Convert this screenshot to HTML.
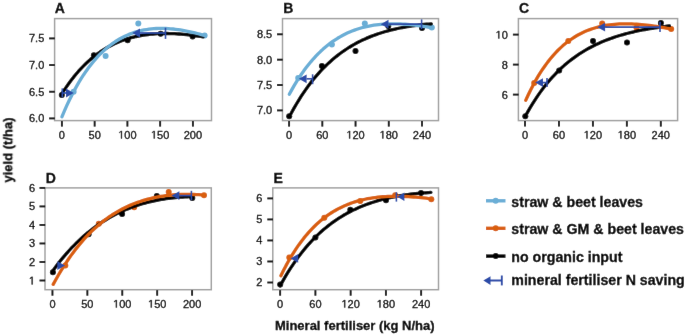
<!DOCTYPE html>
<html><head><meta charset="utf-8"><style>
html,body{margin:0;padding:0;background:#fff;}
svg{display:block;}
text{font-family:"Liberation Sans",sans-serif;fill:#000;stroke:#000;stroke-width:0.3px;}
.tk{font-size:11px;}
.hid{fill-opacity:0;stroke-opacity:0;}
.let{font-size:14px;font-weight:bold;}
.ax{font-size:13px;font-weight:bold;}
.lg{font-size:14.2px;font-weight:bold;}
</style></head><body>
<svg width="685" height="335" viewBox="0 0 685 335">
<defs><filter id="bl" x="0" y="0" width="685" height="335" filterUnits="userSpaceOnUse"><feConvolveMatrix order="3" kernelMatrix="0.0016 0.0371 0.0016 0.0371 0.8450 0.0371 0.0016 0.0371 0.0016" edgeMode="duplicate" preserveAlpha="false"/></filter></defs>
<g filter="url(#bl)"><rect width="685" height="335" fill="#fff"/><rect x="54.6" y="18.6" width="156.9" height="102.0" fill="none" stroke="#a2a2a2" stroke-width="1.5"/><text x="54.8" y="13.4" class="let">A</text><line x1="61.9" y1="121.1" x2="61.9" y2="126.6" stroke="#000" stroke-width="1.9"/><text x="61.9" y="138.5" class="tk" text-anchor="middle">0</text><line x1="94.65" y1="121.1" x2="94.65" y2="126.6" stroke="#000" stroke-width="1.9"/><text x="94.65" y="138.5" class="tk" text-anchor="middle">50</text><line x1="127.4" y1="121.1" x2="127.4" y2="126.6" stroke="#000" stroke-width="1.9"/><text x="127.4" y="138.5" class="tk" text-anchor="middle"><tspan class="hid">1</tspan>00</text><path transform="translate(118.223,138.5) scale(0.005371,-0.005371)" d="M515 0L515 1237L197 1010L197 1180L530 1409L696 1409L696 0Z" fill="#000" stroke="#000" stroke-width="55.9" stroke-linejoin="miter"/><line x1="160.15" y1="121.1" x2="160.15" y2="126.6" stroke="#000" stroke-width="1.9"/><text x="160.15" y="138.5" class="tk" text-anchor="middle"><tspan class="hid">1</tspan>50</text><path transform="translate(150.973,138.5) scale(0.005371,-0.005371)" d="M515 0L515 1237L197 1010L197 1180L530 1409L696 1409L696 0Z" fill="#000" stroke="#000" stroke-width="55.9" stroke-linejoin="miter"/><line x1="192.9" y1="121.1" x2="192.9" y2="126.6" stroke="#000" stroke-width="1.9"/><text x="192.9" y="138.5" class="tk" text-anchor="middle">200</text><line x1="49.1" y1="118.4" x2="54.800000000000004" y2="118.4" stroke="#000" stroke-width="1.9"/><text x="44.3" y="122.30000000000001" class="tk" text-anchor="end">6.0</text><line x1="49.1" y1="91.73333333333333" x2="54.800000000000004" y2="91.73333333333333" stroke="#000" stroke-width="1.9"/><text x="44.3" y="95.63333333333334" class="tk" text-anchor="end">6.5</text><line x1="49.1" y1="65.06666666666666" x2="54.800000000000004" y2="65.06666666666666" stroke="#000" stroke-width="1.9"/><text x="44.3" y="68.96666666666667" class="tk" text-anchor="end">7.0</text><line x1="49.1" y1="38.4" x2="54.800000000000004" y2="38.4" stroke="#000" stroke-width="1.9"/><text x="44.3" y="42.3" class="tk" text-anchor="end">7.5</text><rect x="282.5" y="18.6" width="156.0" height="102.0" fill="none" stroke="#a2a2a2" stroke-width="1.5"/><text x="283.3" y="13.4" class="let">B</text><line x1="289.1" y1="121.1" x2="289.1" y2="126.6" stroke="#000" stroke-width="1.9"/><text x="289.1" y="138.5" class="tk" text-anchor="middle">0</text><line x1="322.32500000000005" y1="121.1" x2="322.32500000000005" y2="126.6" stroke="#000" stroke-width="1.9"/><text x="322.32500000000005" y="138.5" class="tk" text-anchor="middle">60</text><line x1="355.55" y1="121.1" x2="355.55" y2="126.6" stroke="#000" stroke-width="1.9"/><text x="355.55" y="138.5" class="tk" text-anchor="middle"><tspan class="hid">1</tspan>20</text><path transform="translate(346.373,138.5) scale(0.005371,-0.005371)" d="M515 0L515 1237L197 1010L197 1180L530 1409L696 1409L696 0Z" fill="#000" stroke="#000" stroke-width="55.9" stroke-linejoin="miter"/><line x1="388.775" y1="121.1" x2="388.775" y2="126.6" stroke="#000" stroke-width="1.9"/><text x="388.775" y="138.5" class="tk" text-anchor="middle"><tspan class="hid">1</tspan>80</text><path transform="translate(379.598,138.5) scale(0.005371,-0.005371)" d="M515 0L515 1237L197 1010L197 1180L530 1409L696 1409L696 0Z" fill="#000" stroke="#000" stroke-width="55.9" stroke-linejoin="miter"/><line x1="422.0" y1="121.1" x2="422.0" y2="126.6" stroke="#000" stroke-width="1.9"/><text x="422.0" y="138.5" class="tk" text-anchor="middle">240</text><line x1="277.0" y1="110.4" x2="282.7" y2="110.4" stroke="#000" stroke-width="1.9"/><text x="272.2" y="114.30000000000001" class="tk" text-anchor="end">7.0</text><line x1="277.0" y1="85.03333333333333" x2="282.7" y2="85.03333333333333" stroke="#000" stroke-width="1.9"/><text x="272.2" y="88.93333333333334" class="tk" text-anchor="end">7.5</text><line x1="277.0" y1="59.66666666666667" x2="282.7" y2="59.66666666666667" stroke="#000" stroke-width="1.9"/><text x="272.2" y="63.56666666666667" class="tk" text-anchor="end">8.0</text><line x1="277.0" y1="34.3" x2="282.7" y2="34.3" stroke="#000" stroke-width="1.9"/><text x="272.2" y="38.199999999999996" class="tk" text-anchor="end">8.5</text><rect x="518.4" y="18.6" width="159.20000000000005" height="102.0" fill="none" stroke="#a2a2a2" stroke-width="1.5"/><text x="519.0" y="13.4" class="let">C</text><line x1="525.0" y1="121.1" x2="525.0" y2="126.6" stroke="#000" stroke-width="1.9"/><text x="525.0" y="138.5" class="tk" text-anchor="middle">0</text><line x1="558.95" y1="121.1" x2="558.95" y2="126.6" stroke="#000" stroke-width="1.9"/><text x="558.95" y="138.5" class="tk" text-anchor="middle">60</text><line x1="592.9" y1="121.1" x2="592.9" y2="126.6" stroke="#000" stroke-width="1.9"/><text x="592.9" y="138.5" class="tk" text-anchor="middle"><tspan class="hid">1</tspan>20</text><path transform="translate(583.723,138.5) scale(0.005371,-0.005371)" d="M515 0L515 1237L197 1010L197 1180L530 1409L696 1409L696 0Z" fill="#000" stroke="#000" stroke-width="55.9" stroke-linejoin="miter"/><line x1="626.8499999999999" y1="121.1" x2="626.8499999999999" y2="126.6" stroke="#000" stroke-width="1.9"/><text x="626.8499999999999" y="138.5" class="tk" text-anchor="middle"><tspan class="hid">1</tspan>80</text><path transform="translate(617.673,138.5) scale(0.005371,-0.005371)" d="M515 0L515 1237L197 1010L197 1180L530 1409L696 1409L696 0Z" fill="#000" stroke="#000" stroke-width="55.9" stroke-linejoin="miter"/><line x1="660.8" y1="121.1" x2="660.8" y2="126.6" stroke="#000" stroke-width="1.9"/><text x="660.8" y="138.5" class="tk" text-anchor="middle">240</text><line x1="512.9" y1="94.6" x2="518.6" y2="94.6" stroke="#000" stroke-width="1.9"/><text x="507.8" y="98.5" class="tk" text-anchor="end">6</text><line x1="512.9" y1="64.6" x2="518.6" y2="64.6" stroke="#000" stroke-width="1.9"/><text x="507.8" y="68.5" class="tk" text-anchor="end">8</text><line x1="512.9" y1="34.6" x2="518.6" y2="34.6" stroke="#000" stroke-width="1.9"/><text x="507.8" y="38.5" class="tk" text-anchor="end"><tspan class="hid">1</tspan>0</text><path transform="translate(495.565,38.5) scale(0.005371,-0.005371)" d="M515 0L515 1237L197 1010L197 1180L530 1409L696 1409L696 0Z" fill="#000" stroke="#000" stroke-width="55.9" stroke-linejoin="miter"/><rect x="45.0" y="187.9" width="166.3" height="101.79999999999998" fill="none" stroke="#a2a2a2" stroke-width="1.5"/><text x="45.8" y="182.6" class="let">D</text><line x1="52.45" y1="290.2" x2="52.45" y2="295.7" stroke="#000" stroke-width="1.9"/><text x="52.45" y="307.59999999999997" class="tk" text-anchor="middle">0</text><line x1="87.3625" y1="290.2" x2="87.3625" y2="295.7" stroke="#000" stroke-width="1.9"/><text x="87.3625" y="307.59999999999997" class="tk" text-anchor="middle">50</text><line x1="122.27499999999999" y1="290.2" x2="122.27499999999999" y2="295.7" stroke="#000" stroke-width="1.9"/><text x="122.27499999999999" y="307.59999999999997" class="tk" text-anchor="middle"><tspan class="hid">1</tspan>00</text><path transform="translate(113.098,307.59999999999997) scale(0.005371,-0.005371)" d="M515 0L515 1237L197 1010L197 1180L530 1409L696 1409L696 0Z" fill="#000" stroke="#000" stroke-width="55.9" stroke-linejoin="miter"/><line x1="157.1875" y1="290.2" x2="157.1875" y2="295.7" stroke="#000" stroke-width="1.9"/><text x="157.1875" y="307.59999999999997" class="tk" text-anchor="middle"><tspan class="hid">1</tspan>50</text><path transform="translate(148.011,307.59999999999997) scale(0.005371,-0.005371)" d="M515 0L515 1237L197 1010L197 1180L530 1409L696 1409L696 0Z" fill="#000" stroke="#000" stroke-width="55.9" stroke-linejoin="miter"/><line x1="192.09999999999997" y1="290.2" x2="192.09999999999997" y2="295.7" stroke="#000" stroke-width="1.9"/><text x="192.09999999999997" y="307.59999999999997" class="tk" text-anchor="middle">200</text><line x1="39.5" y1="280.5" x2="45.2" y2="280.5" stroke="#000" stroke-width="1.9"/><text x="35.0" y="284.4" class="tk" text-anchor="end"><tspan class="hid">1</tspan></text><path transform="translate(28.882,284.4) scale(0.005371,-0.005371)" d="M515 0L515 1237L197 1010L197 1180L530 1409L696 1409L696 0Z" fill="#000" stroke="#000" stroke-width="55.9" stroke-linejoin="miter"/><line x1="39.5" y1="261.98" x2="45.2" y2="261.98" stroke="#000" stroke-width="1.9"/><text x="35.0" y="265.88" class="tk" text-anchor="end">2</text><line x1="39.5" y1="243.45999999999998" x2="45.2" y2="243.45999999999998" stroke="#000" stroke-width="1.9"/><text x="35.0" y="247.35999999999999" class="tk" text-anchor="end">3</text><line x1="39.5" y1="224.94" x2="45.2" y2="224.94" stroke="#000" stroke-width="1.9"/><text x="35.0" y="228.84" class="tk" text-anchor="end">4</text><line x1="39.5" y1="206.42000000000002" x2="45.2" y2="206.42000000000002" stroke="#000" stroke-width="1.9"/><text x="35.0" y="210.32000000000002" class="tk" text-anchor="end">5</text><line x1="39.5" y1="187.9" x2="45.2" y2="187.9" stroke="#000" stroke-width="1.9"/><text x="35.0" y="191.8" class="tk" text-anchor="end">6</text><rect x="272.8" y="187.9" width="165.7" height="101.79999999999998" fill="none" stroke="#a2a2a2" stroke-width="1.5"/><text x="273.6" y="182.6" class="let">E</text><line x1="280.15" y1="290.2" x2="280.15" y2="295.7" stroke="#000" stroke-width="1.9"/><text x="280.15" y="307.59999999999997" class="tk" text-anchor="middle">0</text><line x1="315.4" y1="290.2" x2="315.4" y2="295.7" stroke="#000" stroke-width="1.9"/><text x="315.4" y="307.59999999999997" class="tk" text-anchor="middle">60</text><line x1="350.65" y1="290.2" x2="350.65" y2="295.7" stroke="#000" stroke-width="1.9"/><text x="350.65" y="307.59999999999997" class="tk" text-anchor="middle"><tspan class="hid">1</tspan>20</text><path transform="translate(341.473,307.59999999999997) scale(0.005371,-0.005371)" d="M515 0L515 1237L197 1010L197 1180L530 1409L696 1409L696 0Z" fill="#000" stroke="#000" stroke-width="55.9" stroke-linejoin="miter"/><line x1="385.9" y1="290.2" x2="385.9" y2="295.7" stroke="#000" stroke-width="1.9"/><text x="385.9" y="307.59999999999997" class="tk" text-anchor="middle"><tspan class="hid">1</tspan>80</text><path transform="translate(376.723,307.59999999999997) scale(0.005371,-0.005371)" d="M515 0L515 1237L197 1010L197 1180L530 1409L696 1409L696 0Z" fill="#000" stroke="#000" stroke-width="55.9" stroke-linejoin="miter"/><line x1="421.15" y1="290.2" x2="421.15" y2="295.7" stroke="#000" stroke-width="1.9"/><text x="421.15" y="307.59999999999997" class="tk" text-anchor="middle">240</text><line x1="267.3" y1="282.5" x2="273.0" y2="282.5" stroke="#000" stroke-width="1.9"/><text x="262.4" y="286.4" class="tk" text-anchor="end">2</text><line x1="267.3" y1="261.475" x2="273.0" y2="261.475" stroke="#000" stroke-width="1.9"/><text x="262.4" y="265.375" class="tk" text-anchor="end">3</text><line x1="267.3" y1="240.45" x2="273.0" y2="240.45" stroke="#000" stroke-width="1.9"/><text x="262.4" y="244.35" class="tk" text-anchor="end">4</text><line x1="267.3" y1="219.425" x2="273.0" y2="219.425" stroke="#000" stroke-width="1.9"/><text x="262.4" y="223.32500000000002" class="tk" text-anchor="end">5</text><line x1="267.3" y1="198.4" x2="273.0" y2="198.4" stroke="#000" stroke-width="1.9"/><text x="262.4" y="202.3" class="tk" text-anchor="end">6</text><circle cx="73.6" cy="91.8" r="3.0" fill="#6baed6"/><circle cx="105.6" cy="56" r="3.0" fill="#6baed6"/><circle cx="138.3" cy="23.6" r="3.0" fill="#6baed6"/><circle cx="204.6" cy="35.6" r="3.0" fill="#6baed6"/><circle cx="61.8" cy="95.1" r="3.0" fill="#000000"/><circle cx="93.9" cy="55.3" r="3.0" fill="#000000"/><circle cx="127.6" cy="40.2" r="3.0" fill="#000000"/><circle cx="160.6" cy="33.7" r="3.0" fill="#000000"/><circle cx="192.6" cy="36.5" r="3.0" fill="#000000"/><path d="M61.80 93.84 L64.19 90.11 L66.59 86.56 L68.98 83.18 L71.37 79.96 L73.77 76.90 L76.16 73.99 L78.55 71.22 L80.95 68.59 L83.34 66.10 L85.73 63.74 L88.13 61.50 L90.52 59.37 L92.91 57.37 L95.31 55.47 L97.70 53.68 L100.09 51.99 L102.48 50.39 L104.88 48.90 L107.27 47.49 L109.66 46.17 L112.06 44.93 L114.45 43.78 L116.84 42.70 L119.24 41.69 L121.63 40.76 L124.02 39.89 L126.42 39.09 L128.81 38.36 L131.20 37.68 L133.60 37.07 L135.99 36.51 L138.38 36.01 L140.78 35.55 L143.17 35.15 L145.56 34.80 L147.96 34.49 L150.35 34.23 L152.74 34.01 L155.14 33.83 L157.53 33.69 L159.92 33.59 L162.32 33.53 L164.71 33.50 L167.10 33.50 L169.49 33.54 L171.89 33.61 L174.28 33.71 L176.67 33.84 L179.07 33.99 L181.46 34.18 L183.85 34.39 L186.25 34.62 L188.64 34.88 L191.03 35.16 L193.43 35.46 L195.82 35.78 L198.21 36.13 L200.61 36.49 L203.00 36.87" fill="none" stroke="#000000" stroke-width="3.3" stroke-linecap="round" stroke-linejoin="round"/><path d="M61.90 116.80 L64.32 111.11 L66.74 105.70 L69.16 100.56 L71.57 95.67 L73.99 91.03 L76.41 86.62 L78.83 82.44 L81.25 78.48 L83.67 74.73 L86.09 71.19 L88.51 67.83 L90.92 64.66 L93.34 61.68 L95.76 58.86 L98.18 56.21 L100.60 53.71 L103.02 51.37 L105.44 49.18 L107.85 47.12 L110.27 45.21 L112.69 43.42 L115.11 41.76 L117.53 40.21 L119.95 38.78 L122.37 37.47 L124.78 36.26 L127.20 35.15 L129.62 34.14 L132.04 33.22 L134.46 32.39 L136.88 31.66 L139.30 31.00 L141.72 30.43 L144.13 29.93 L146.55 29.51 L148.97 29.16 L151.39 28.87 L153.81 28.66 L156.23 28.50 L158.65 28.41 L161.06 28.37 L163.48 28.40 L165.90 28.47 L168.32 28.60 L170.74 28.78 L173.16 29.00 L175.58 29.27 L177.99 29.59 L180.41 29.95 L182.83 30.34 L185.25 30.78 L187.67 31.26 L190.09 31.77 L192.51 32.31 L194.93 32.89 L197.34 33.50 L199.76 34.15 L202.18 34.82 L204.60 35.52" fill="none" stroke="#6baed6" stroke-width="3.3" stroke-linecap="round" stroke-linejoin="round"/><line x1="62.3" y1="88.4" x2="62.3" y2="97.4" stroke="#2b4ba8" stroke-width="1.6"/><line x1="62.3" y1="93.0" x2="66.0" y2="93.0" stroke="#2b4ba8" stroke-width="1.7"/><path d="M73.8 93.0 L66.0 88.6 L66.0 97.4 Z" fill="#2b4ba8"/><line x1="165.5" y1="27.7" x2="165.5" y2="38.9" stroke="#2b4ba8" stroke-width="1.6"/><line x1="165.5" y1="33.0" x2="140.0" y2="33.0" stroke="#2b4ba8" stroke-width="1.7"/><path d="M132.2 33.0 L140.0 28.6 L140.0 37.4 Z" fill="#2b4ba8"/><circle cx="298.2" cy="78" r="3.0" fill="#6baed6"/><circle cx="331.9" cy="44.5" r="3.0" fill="#6baed6"/><circle cx="364.8" cy="23.6" r="3.0" fill="#6baed6"/><circle cx="431.8" cy="27.6" r="3.0" fill="#6baed6"/><circle cx="289.2" cy="116.2" r="3.0" fill="#000000"/><circle cx="321.9" cy="66" r="3.0" fill="#000000"/><circle cx="355.5" cy="51.1" r="3.0" fill="#000000"/><circle cx="388.3" cy="26.1" r="3.0" fill="#000000"/><circle cx="422" cy="28" r="3.0" fill="#000000"/><path d="M289.20 116.98 L291.61 112.46 L294.02 108.13 L296.43 103.98 L298.83 100.02 L301.24 96.22 L303.65 92.59 L306.06 89.11 L308.47 85.78 L310.88 82.60 L313.28 79.56 L315.69 76.65 L318.10 73.87 L320.51 71.21 L322.92 68.67 L325.33 66.24 L327.74 63.92 L330.14 61.70 L332.55 59.58 L334.96 57.56 L337.37 55.63 L339.78 53.78 L342.19 52.03 L344.59 50.35 L347.00 48.75 L349.41 47.22 L351.82 45.77 L354.23 44.38 L356.64 43.06 L359.05 41.81 L361.45 40.61 L363.86 39.48 L366.27 38.39 L368.68 37.37 L371.09 36.39 L373.50 35.46 L375.91 34.58 L378.31 33.75 L380.72 32.96 L383.13 32.21 L385.54 31.50 L387.95 30.83 L390.36 30.19 L392.76 29.60 L395.17 29.03 L397.58 28.50 L399.99 28.00 L402.40 27.53 L404.81 27.09 L407.22 26.67 L409.62 26.29 L412.03 25.92 L414.44 25.59 L416.85 25.27 L419.26 24.98 L421.67 24.71 L424.07 24.46 L426.48 24.23 L428.89 24.02 L431.30 23.83" fill="none" stroke="#000000" stroke-width="3.3" stroke-linecap="round" stroke-linejoin="round"/><path d="M289.30 94.27 L291.72 89.86 L294.13 85.66 L296.55 81.66 L298.96 77.87 L301.38 74.25 L303.79 70.83 L306.21 67.57 L308.62 64.48 L311.04 61.55 L313.45 58.78 L315.87 56.15 L318.28 53.66 L320.70 51.31 L323.11 49.10 L325.53 47.01 L327.94 45.03 L330.36 43.18 L332.77 41.44 L335.19 39.80 L337.61 38.27 L340.02 36.83 L342.44 35.49 L344.85 34.24 L347.27 33.08 L349.68 32.01 L352.10 31.01 L354.51 30.09 L356.93 29.25 L359.34 28.48 L361.76 27.77 L364.17 27.14 L366.59 26.56 L369.00 26.05 L371.42 25.60 L373.83 25.20 L376.25 24.86 L378.66 24.56 L381.08 24.32 L383.49 24.13 L385.91 23.98 L388.33 23.87 L390.74 23.81 L393.16 23.79 L395.57 23.81 L397.99 23.87 L400.40 23.96 L402.82 24.08 L405.23 24.24 L407.65 24.44 L410.06 24.66 L412.48 24.91 L414.89 25.19 L417.31 25.50 L419.72 25.83 L422.14 26.19 L424.55 26.57 L426.97 26.98 L429.38 27.41 L431.80 27.86" fill="none" stroke="#6baed6" stroke-width="3.3" stroke-linecap="round" stroke-linejoin="round"/><line x1="312.6" y1="74.3" x2="312.6" y2="84.2" stroke="#2b4ba8" stroke-width="1.6"/><line x1="312.6" y1="78.8" x2="306.6" y2="78.8" stroke="#2b4ba8" stroke-width="1.7"/><path d="M298.8 78.8 L306.6 74.39999999999999 L306.6 83.2 Z" fill="#2b4ba8"/><line x1="421.6" y1="19.4" x2="421.6" y2="29" stroke="#2b4ba8" stroke-width="1.6"/><line x1="421.6" y1="24.2" x2="388.5" y2="24.2" stroke="#2b4ba8" stroke-width="1.7"/><path d="M380.7 24.2 L388.5 19.799999999999997 L388.5 28.6 Z" fill="#2b4ba8"/><circle cx="534.2" cy="83.0" r="3.0" fill="#d95f0e"/><circle cx="568.3" cy="40.9" r="3.0" fill="#d95f0e"/><circle cx="602.2" cy="23.6" r="3.0" fill="#d95f0e"/><circle cx="636.5" cy="27.8" r="3.0" fill="#d95f0e"/><circle cx="671.2" cy="28.9" r="3.0" fill="#d95f0e"/><circle cx="525.3" cy="116.2" r="3.0" fill="#000000"/><circle cx="559.2" cy="70.6" r="3.0" fill="#000000"/><circle cx="593" cy="40.9" r="3.0" fill="#000000"/><circle cx="627" cy="42.5" r="3.0" fill="#000000"/><circle cx="660.9" cy="23.1" r="3.0" fill="#000000"/><path d="M525.30 116.28 L527.74 111.87 L530.18 107.65 L532.63 103.63 L535.07 99.80 L537.51 96.14 L539.95 92.64 L542.40 89.31 L544.84 86.12 L547.28 83.09 L549.72 80.19 L552.17 77.42 L554.61 74.78 L557.05 72.26 L559.49 69.86 L561.94 67.56 L564.38 65.37 L566.82 63.28 L569.26 61.29 L571.71 59.39 L574.15 57.57 L576.59 55.84 L579.03 54.19 L581.47 52.61 L583.92 51.10 L586.36 49.67 L588.80 48.30 L591.24 46.99 L593.69 45.74 L596.13 44.55 L598.57 43.42 L601.01 42.34 L603.46 41.30 L605.90 40.32 L608.34 39.38 L610.78 38.48 L613.23 37.63 L615.67 36.81 L618.11 36.03 L620.55 35.29 L622.99 34.58 L625.44 33.91 L627.88 33.26 L630.32 32.65 L632.76 32.07 L635.21 31.51 L637.65 30.98 L640.09 30.47 L642.53 29.98 L644.98 29.52 L647.42 29.08 L649.86 28.67 L652.30 28.27 L654.75 27.89 L657.19 27.52 L659.63 27.18 L662.07 26.85 L664.52 26.54 L666.96 26.24 L669.40 25.95" fill="none" stroke="#000000" stroke-width="3.3" stroke-linecap="round" stroke-linejoin="round"/><path d="M525.70 100.32 L528.17 94.98 L530.63 89.93 L533.10 85.17 L535.56 80.68 L538.03 76.44 L540.50 72.46 L542.96 68.71 L545.43 65.18 L547.89 61.86 L550.36 58.74 L552.83 55.82 L555.29 53.08 L557.76 50.51 L560.23 48.11 L562.69 45.86 L565.16 43.77 L567.62 41.81 L570.09 40.00 L572.56 38.31 L575.02 36.74 L577.49 35.29 L579.95 33.96 L582.42 32.72 L584.89 31.59 L587.35 30.56 L589.82 29.61 L592.28 28.75 L594.75 27.98 L597.22 27.28 L599.68 26.66 L602.15 26.11 L604.62 25.62 L607.08 25.21 L609.55 24.85 L612.01 24.55 L614.48 24.30 L616.95 24.11 L619.41 23.97 L621.88 23.88 L624.34 23.83 L626.81 23.82 L629.28 23.86 L631.74 23.94 L634.21 24.05 L636.67 24.20 L639.14 24.38 L641.61 24.59 L644.07 24.84 L646.54 25.11 L649.01 25.41 L651.47 25.74 L653.94 26.09 L656.40 26.47 L658.87 26.87 L661.34 27.29 L663.80 27.73 L666.27 28.19 L668.73 28.67 L671.20 29.17" fill="none" stroke="#d95f0e" stroke-width="3.3" stroke-linecap="round" stroke-linejoin="round"/><line x1="547.0" y1="77.9" x2="547.0" y2="86.9" stroke="#2b4ba8" stroke-width="1.6"/><line x1="547.0" y1="82.6" x2="543.0" y2="82.6" stroke="#2b4ba8" stroke-width="1.7"/><path d="M535.2 82.6 L543.0 78.19999999999999 L543.0 87.0 Z" fill="#2b4ba8"/><line x1="660" y1="21.7" x2="660" y2="32" stroke="#2b4ba8" stroke-width="1.6"/><line x1="660" y1="27.2" x2="605.0999999999999" y2="27.2" stroke="#2b4ba8" stroke-width="1.7"/><path d="M597.3 27.2 L605.0999999999999 22.799999999999997 L605.0999999999999 31.6 Z" fill="#2b4ba8"/><circle cx="65.3" cy="265.4" r="3.0" fill="#d95f0e"/><circle cx="98.8" cy="223.8" r="3.0" fill="#d95f0e"/><circle cx="134.2" cy="207.2" r="3.0" fill="#d95f0e"/><circle cx="168.7" cy="192" r="3.0" fill="#d95f0e"/><circle cx="204" cy="195.3" r="3.0" fill="#d95f0e"/><circle cx="52.9" cy="272.2" r="3.0" fill="#000000"/><circle cx="88.6" cy="234.2" r="3.0" fill="#000000"/><circle cx="122.1" cy="214" r="3.0" fill="#000000"/><circle cx="156.8" cy="196.1" r="3.0" fill="#000000"/><circle cx="192.3" cy="198" r="3.0" fill="#000000"/><path d="M52.90 270.66 L55.26 267.44 L57.62 264.33 L59.97 261.32 L62.33 258.41 L64.69 255.60 L67.05 252.88 L69.40 250.26 L71.76 247.72 L74.12 245.28 L76.48 242.92 L78.83 240.64 L81.19 238.44 L83.55 236.33 L85.91 234.29 L88.26 232.32 L90.62 230.43 L92.98 228.61 L95.34 226.85 L97.69 225.17 L100.05 223.54 L102.41 221.99 L104.77 220.49 L107.13 219.06 L109.48 217.68 L111.84 216.36 L114.20 215.09 L116.56 213.88 L118.91 212.73 L121.27 211.62 L123.63 210.56 L125.99 209.56 L128.34 208.60 L130.70 207.68 L133.06 206.81 L135.42 205.99 L137.77 205.20 L140.13 204.46 L142.49 203.76 L144.85 203.10 L147.21 202.47 L149.56 201.88 L151.92 201.33 L154.28 200.81 L156.64 200.33 L158.99 199.88 L161.35 199.47 L163.71 199.08 L166.07 198.73 L168.42 198.40 L170.78 198.11 L173.14 197.84 L175.50 197.60 L177.85 197.39 L180.21 197.21 L182.57 197.04 L184.93 196.91 L187.28 196.80 L189.64 196.71 L192.00 196.64" fill="none" stroke="#000000" stroke-width="3.3" stroke-linecap="round" stroke-linejoin="round"/><path d="M53.20 284.35 L55.76 279.68 L58.31 275.20 L60.87 270.90 L63.42 266.78 L65.98 262.83 L68.54 259.04 L71.09 255.41 L73.65 251.93 L76.20 248.60 L78.76 245.41 L81.32 242.36 L83.87 239.44 L86.43 236.65 L88.98 233.99 L91.54 231.45 L94.09 229.02 L96.65 226.71 L99.21 224.51 L101.76 222.41 L104.32 220.41 L106.87 218.51 L109.43 216.71 L111.99 215.00 L114.54 213.38 L117.10 211.85 L119.65 210.39 L122.21 209.02 L124.77 207.73 L127.32 206.51 L129.88 205.36 L132.43 204.29 L134.99 203.28 L137.55 202.34 L140.10 201.46 L142.66 200.64 L145.21 199.89 L147.77 199.19 L150.33 198.54 L152.88 197.95 L155.44 197.41 L157.99 196.92 L160.55 196.48 L163.11 196.09 L165.66 195.74 L168.22 195.44 L170.77 195.17 L173.33 194.95 L175.88 194.77 L178.44 194.63 L181.00 194.52 L183.55 194.45 L186.11 194.42 L188.66 194.41 L191.22 194.44 L193.78 194.50 L196.33 194.60 L198.89 194.72 L201.44 194.86 L204.00 195.04" fill="none" stroke="#d95f0e" stroke-width="3.3" stroke-linecap="round" stroke-linejoin="round"/><path d="M65.1 265.6 L57.3 261.20000000000005 L57.3 270.0 Z" fill="#2b4ba8"/><line x1="191.4" y1="190.8" x2="191.4" y2="200.2" stroke="#2b4ba8" stroke-width="1.6"/><line x1="191.4" y1="195.6" x2="179.4" y2="195.6" stroke="#2b4ba8" stroke-width="1.7"/><path d="M171.6 195.6 L179.4 191.2 L179.4 200.0 Z" fill="#2b4ba8"/><circle cx="289.3" cy="257.6" r="3.0" fill="#d95f0e"/><circle cx="324.3" cy="217.8" r="3.0" fill="#d95f0e"/><circle cx="360.2" cy="201.1" r="3.0" fill="#d95f0e"/><circle cx="395.2" cy="195.2" r="3.0" fill="#d95f0e"/><circle cx="431.3" cy="199.3" r="3.0" fill="#d95f0e"/><circle cx="280.2" cy="284.5" r="3.0" fill="#000000"/><circle cx="315.4" cy="237.5" r="3.0" fill="#000000"/><circle cx="350.3" cy="209.7" r="3.0" fill="#000000"/><circle cx="386" cy="200.2" r="3.0" fill="#000000"/><circle cx="421" cy="193.1" r="3.0" fill="#000000"/><path d="M280.20 285.70 L282.75 281.08 L285.31 276.67 L287.86 272.45 L290.42 268.41 L292.97 264.55 L295.53 260.85 L298.08 257.32 L300.63 253.94 L303.19 250.71 L305.74 247.63 L308.30 244.68 L310.85 241.86 L313.41 239.17 L315.96 236.60 L318.51 234.14 L321.07 231.80 L323.62 229.56 L326.18 227.43 L328.73 225.39 L331.28 223.45 L333.84 221.60 L336.39 219.83 L338.95 218.15 L341.50 216.55 L344.06 215.03 L346.61 213.57 L349.16 212.19 L351.72 210.88 L354.27 209.63 L356.83 208.45 L359.38 207.32 L361.94 206.26 L364.49 205.24 L367.04 204.28 L369.60 203.37 L372.15 202.51 L374.71 201.70 L377.26 200.93 L379.82 200.20 L382.37 199.52 L384.92 198.87 L387.48 198.26 L390.03 197.69 L392.59 197.15 L395.14 196.65 L397.69 196.18 L400.25 195.74 L402.80 195.33 L405.36 194.95 L407.91 194.59 L410.47 194.26 L413.02 193.96 L415.57 193.68 L418.13 193.42 L420.68 193.19 L423.24 192.97 L425.79 192.78 L428.35 192.61 L430.90 192.45" fill="none" stroke="#000000" stroke-width="3.3" stroke-linecap="round" stroke-linejoin="round"/><path d="M280.90 275.69 L283.45 270.53 L286.00 265.65 L288.55 261.04 L291.10 256.66 L293.65 252.53 L296.19 248.62 L298.74 244.93 L301.29 241.44 L303.84 238.15 L306.39 235.04 L308.94 232.12 L311.49 229.36 L314.04 226.76 L316.59 224.31 L319.14 222.02 L321.69 219.86 L324.24 217.83 L326.78 215.93 L329.33 214.16 L331.88 212.50 L334.43 210.94 L336.98 209.50 L339.53 208.15 L342.08 206.90 L344.63 205.74 L347.18 204.66 L349.73 203.67 L352.28 202.76 L354.83 201.92 L357.37 201.15 L359.92 200.46 L362.47 199.82 L365.02 199.25 L367.57 198.74 L370.12 198.28 L372.67 197.88 L375.22 197.52 L377.77 197.22 L380.32 196.96 L382.87 196.75 L385.42 196.58 L387.96 196.45 L390.51 196.36 L393.06 196.30 L395.61 196.28 L398.16 196.29 L400.71 196.34 L403.26 196.41 L405.81 196.51 L408.36 196.65 L410.91 196.80 L413.46 196.98 L416.01 197.19 L418.55 197.42 L421.10 197.66 L423.65 197.93 L426.20 198.22 L428.75 198.53 L431.30 198.86" fill="none" stroke="#d95f0e" stroke-width="3.3" stroke-linecap="round" stroke-linejoin="round"/><path d="M290.4 258.4 L298.2 253.99999999999997 L298.2 262.79999999999995 Z" fill="#2b4ba8"/><line x1="396.4" y1="192.2" x2="396.4" y2="201.6" stroke="#2b4ba8" stroke-width="1.6"/><path d="M397.3 196.8 L404.4 192.6 L404.4 201.1 Z" fill="#2b4ba8"/><text x="354.8" y="330.2" class="ax" text-anchor="middle">Mineral fertiliser (kg N/ha)</text><text transform="translate(12.3,150.1) rotate(-90)" class="ax" text-anchor="middle">yield (t/ha)</text><line x1="486" y1="200.8" x2="505.5" y2="200.8" stroke="#6baed6" stroke-width="3.4"/><circle cx="495.7" cy="200.8" r="3.0" fill="#6baed6"/><text x="511.3" y="206.7" class="lg">straw &amp; beet leaves</text><line x1="486" y1="228.3" x2="505.5" y2="228.3" stroke="#d95f0e" stroke-width="3.4"/><circle cx="495.7" cy="228.3" r="3.0" fill="#d95f0e"/><text x="511.3" y="233.7" class="lg">straw &amp; GM &amp; beet leaves</text><line x1="486" y1="256.1" x2="505.5" y2="256.1" stroke="#000000" stroke-width="3.4"/><circle cx="495.7" cy="256.1" r="3.0" fill="#000000"/><text x="511.3" y="262.0" class="lg">no organic input</text><line x1="501.8" y1="275.5" x2="501.8" y2="285.4" stroke="#2b4ba8" stroke-width="1.9"/><line x1="501.8" y1="280.5" x2="490" y2="280.5" stroke="#2b4ba8" stroke-width="2"/><path d="M483.3 280.5 L490.5 276.2 L490.5 284.9 Z" fill="#2b4ba8"/><text x="511.3" y="284.7" class="lg">mineral fertiliser N saving</text></g>
</svg>
</body></html>
